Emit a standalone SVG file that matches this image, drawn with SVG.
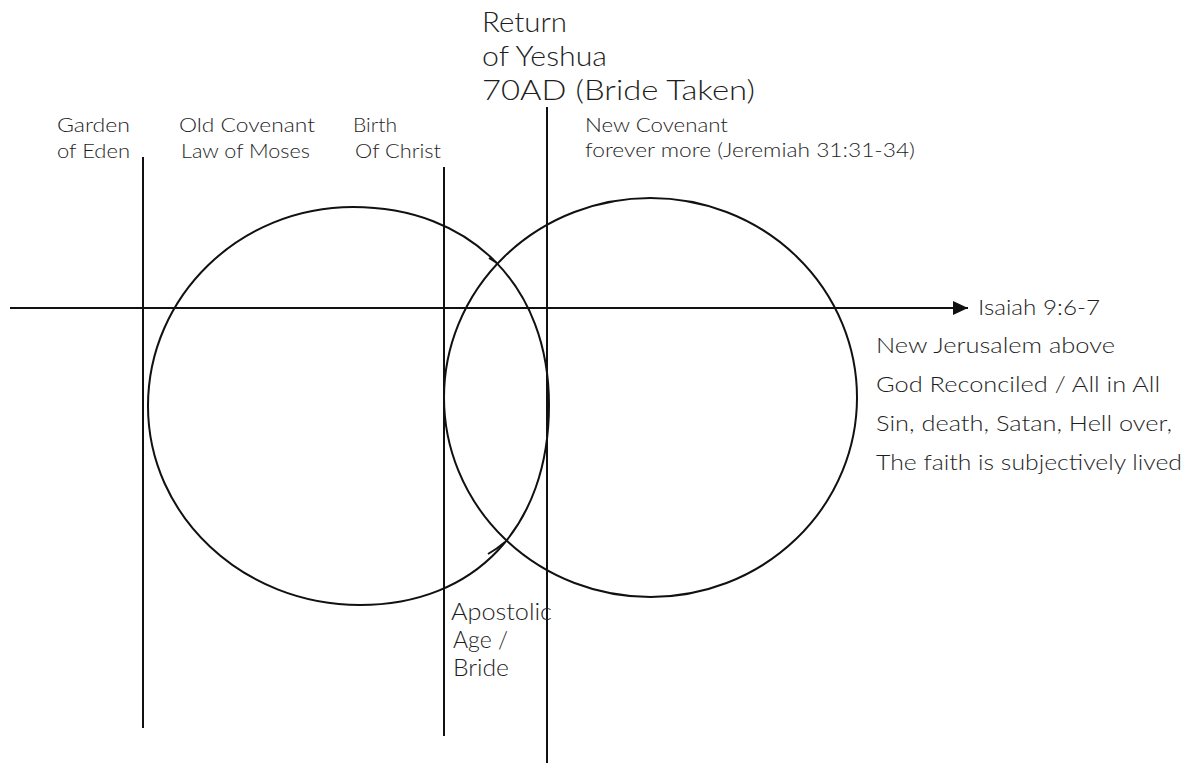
<svg xmlns="http://www.w3.org/2000/svg" width="1196" height="763" viewBox="0 0 1196 763">
<style>
.ln{stroke:#111;stroke-width:2;fill:none}
.t{font-family:Lato,"Noto Sans","Liberation Sans",sans-serif;font-weight:300;fill:#1e1e1e}
.s{font-size:19px}
.m{font-size:21px}
.a{font-size:23px}
.l{font-size:27px}
</style>
<defs>
<marker id="arr" markerWidth="16" markerHeight="16" refX="15" refY="8" orient="auto" markerUnits="userSpaceOnUse">
<path d="M0,1 L15,8 L0,15 Z" fill="#111"/>
</marker>
</defs>
<rect width="1196" height="763" fill="#fff"/>
<g id="connectors">
<line class="ln" x1="10" y1="308" x2="968" y2="308" marker-end="url(#arr)"/>
<line class="ln" x1="143" y1="157" x2="143" y2="728"/>
<line class="ln" x1="444" y1="167" x2="444" y2="736"/>
<line class="ln" x1="547" y1="107" x2="547" y2="763"/>
</g>
<g id="old-circle"><path class="ln" d="M353,207 C470.6,207 549,286 549,405 C549,527 475,605 360,605 C243,605 148,516 148,406 C148,296 240,207 353,207 Z"/></g>
<g id="new-circle"><ellipse class="ln" cx="650.5" cy="397.5" rx="206.5" ry="199.5"/></g>
<g id="ticks">
<path class="ln" d="M489,258 L497,263" stroke-width="1.5"/>
<path class="ln" d="M488,554 Q497,549 505,542" stroke-width="1.5"/>
</g>
<g id="return">
<text class="t l" x="482" y="32" textLength="85" lengthAdjust="spacingAndGlyphs">Return</text>
<text class="t l" x="482" y="66" textLength="125" lengthAdjust="spacingAndGlyphs">of Yeshua</text>
<text class="t l" x="482" y="100" textLength="273" lengthAdjust="spacingAndGlyphs">70AD (Bride Taken)</text>
</g>
<g id="garden">
<text class="t s" x="57" y="132" textLength="73" lengthAdjust="spacingAndGlyphs">Garden</text>
<text class="t s" x="57" y="158" textLength="73" lengthAdjust="spacingAndGlyphs">of Eden</text>
</g>
<g id="old-covenant">
<text class="t s" x="179" y="132" textLength="136" lengthAdjust="spacingAndGlyphs">Old Covenant</text>
<text class="t s" x="181" y="158" textLength="129" lengthAdjust="spacingAndGlyphs">Law of Moses</text>
</g>
<g id="birth">
<text class="t s" x="353" y="132" textLength="44" lengthAdjust="spacingAndGlyphs">Birth</text>
<text class="t s" x="355" y="158" textLength="86" lengthAdjust="spacingAndGlyphs">Of Christ</text>
</g>
<g id="new-covenant">
<text class="t s" x="585" y="132" textLength="143" lengthAdjust="spacingAndGlyphs">New Covenant</text>
<text class="t s" x="585" y="157" textLength="330" lengthAdjust="spacingAndGlyphs">forever more (Jeremiah 31:31-34)</text>
</g>
<g id="isaiah">
<text class="t m" x="978" y="315" textLength="122" lengthAdjust="spacingAndGlyphs">Isaiah 9:6-7</text>
</g>
<g id="new-jerusalem">
<text class="t m" x="876" y="353" textLength="239" lengthAdjust="spacingAndGlyphs">New Jerusalem above</text>
<text class="t m" x="876" y="392" textLength="284" lengthAdjust="spacingAndGlyphs">God Reconciled / All in All</text>
<text class="t m" x="876" y="431" textLength="296" lengthAdjust="spacingAndGlyphs">Sin, death, Satan, Hell over,</text>
<text class="t m" x="876" y="470" textLength="306" lengthAdjust="spacingAndGlyphs">The faith is subjectively lived</text>
</g>
<g id="apostolic">
<text class="t a" x="451" y="620" textLength="101" lengthAdjust="spacingAndGlyphs">Apostolic</text>
<text class="t a" x="453" y="648" textLength="55" lengthAdjust="spacingAndGlyphs">Age /</text>
<text class="t a" x="453" y="676" textLength="56" lengthAdjust="spacingAndGlyphs">Bride</text>
</g>
</svg>
